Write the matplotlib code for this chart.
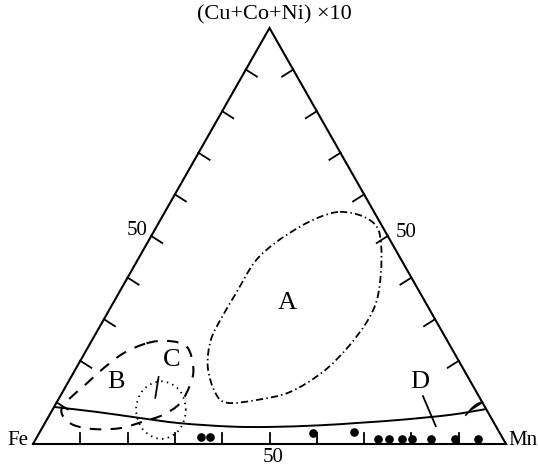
import numpy as np
import matplotlib
matplotlib.use("Agg")
import matplotlib.pyplot as plt
from matplotlib.path import Path
from matplotlib.patches import PathPatch

# ternary values in percent: (Mn, Cu+Co+Ni x10), Fe = 100 - Mn - Cu
sample_mn = [34.6, 36.5, 57.8, 66.4, 72.4, 74.7, 77.5, 79.5, 83.5, 88.6, 93.4]
sample_cu = [1.7, 1.7, 2.6, 2.8, 1.2, 1.2, 1.2, 1.2, 1.2, 1.2, 1.2]

# field A, dash-dot outline
field_a_mn = [37.0, 42.2, 46.6, 49.7, 53.0, 55.4, 55.9, 54.9, 52.6, 48.1, 42.1,
              36.1, 32.4, 27.7, 25.1, 24.7, 24.8, 25.0, 27.0, 30.3, 33.4]
field_a_cu = [55.8, 54.8, 52.2, 47.8, 41.1, 34.6, 29.3, 23.1, 17.3, 12.5, 10.6,
              9.9, 12.3, 18.5, 25.0, 30.5, 36.5, 43.8, 48.3, 52.2, 54.6]

# field B, dashed outline
field_b_mn = [11.9, 15.9, 20.8, 24.8, 26.1, 26.2, 24.0, 20.6, 16.5, 10.9, 6.2,
              3.1, 1.8, 2.3, 4.1, 5.8, 8.2]
field_b_cu = [24.2, 24.8, 23.4, 18.2, 14.2, 9.8, 7.0, 5.4, 3.8, 3.6, 4.6,
              6.6, 8.6, 11.0, 14.6, 18.2, 21.8]

# field C, dotted outline
field_c_mn = [28.2, 24.4, 19.5, 16.8, 17.7, 21.6, 26.5, 29.2]
field_c_cu = [8.2, 13.0, 15.1, 13.0, 8.2, 3.4, 1.2, 3.4]

# upper limit of field D, solid line
line_d_mn = [0.0, 9.7, 19.5, 28.6, 39.5, 48.0, 58.5, 66.5, 74.7, 84.7, 91.6]
line_d_cu = [8.9, 7.7, 6.25, 5.0, 4.2, 4.1, 4.5, 5.1, 5.8, 7.0, 8.4]

# small arc where the D line meets the Mn side
arc_mn = [88.0, 88.7, 89.9]
arc_cu = [6.8, 9.1, 10.2]

field_labels = ["A", "B", "C", "D"]
label_mn = [36.7, 10.0, 19.2, 74.3]
label_cu = [33.9, 15.0, 20.2, 14.9]

# leader lines (C, D)
leader_mn = [[18.5, 20.3], [76.7, 83.0]]
leader_cu = [[16.1, 11.1], [11.5, 4.3]]

tick_values = [10, 20, 30, 40, 50, 60, 70, 80, 90]

W_PX, H_PX = 473.0, 416.0
SERIF = ["Liberation Serif", "DejaVu Serif"]


def to_xy(mn, cu):
    mn = np.asarray(mn, dtype=float) / 100.0
    cu = np.asarray(cu, dtype=float) / 100.0
    return mn + cu / 2.0, cu


def smooth_path(x, y, closed=True):
    pts = np.column_stack([x, y])
    n = len(pts)
    if closed:
        idx = lambda i: pts[i % n]
        segs = range(n)
    else:
        idx = lambda i: pts[min(max(i, 0), n - 1)]
        segs = range(n - 1)
    verts = [pts[0]]
    codes = [Path.MOVETO]
    for i in segs:
        p0, p1, p2, p3 = idx(i - 1), idx(i), idx(i + 1), idx(i + 2)
        verts += [p1 + (p2 - p0) / 6.0, p2 - (p3 - p1) / 6.0, p2]
        codes += [Path.CURVE4] * 3
    return Path(verts, codes)


def px_vec(dx, dy):
    # pixel offset (right, down) -> data offset
    return dx / W_PX, -dy / H_PX


fig = plt.figure(figsize=(5.38, 4.72), dpi=100)
ax = fig.add_axes([33 / 538, 28 / 472, W_PX / 538, H_PX / 472])
ax.set_xlim(0, 1)
ax.set_ylim(0, 1)
ax.axis("off")

# triangle frame
tx, ty = to_xy([0, 100, 0, 0], [0, 0, 100, 0])
ax.plot(tx, ty, color="black", lw=1.5, clip_on=False, solid_joinstyle="miter")

# ticks, pointing inwards
for v in tick_values:
    bx, by = to_xy(v, 0)
    ddx, ddy = px_vec(0, -11)
    ax.plot([bx, bx + ddx], [by, by + ddy], color="black", lw=1.3)
    lx, ly = to_xy(0, v)
    ddx, ddy = px_vec(11, 7)
    ax.plot([lx, lx + ddx], [ly, ly + ddy], color="black", lw=1.3)
    rx, ry = to_xy(100 - v, v)
    ddx, ddy = px_vec(-11, 7)
    ax.plot([rx, rx + ddx], [ry, ry + ddy], color="black", lw=1.3)

# fields
ax.add_patch(PathPatch(smooth_path(*to_xy(field_a_mn, field_a_cu)), fill=False,
                       lw=1.3, linestyle=(0, (4.0, 1.8, 0.8, 1.8)), color="black"))
ax.add_patch(PathPatch(smooth_path(*to_xy(field_b_mn, field_b_cu)), fill=False,
                       lw=1.5, linestyle=(0, (5.5, 4.5)), color="black"))
ax.add_patch(PathPatch(smooth_path(*to_xy(field_c_mn, field_c_cu)), fill=False,
                       lw=1.3, linestyle=(0, (0.8, 2.4)), color="black"))
ax.add_patch(PathPatch(smooth_path(*to_xy(line_d_mn, line_d_cu), closed=False),
                       fill=False, lw=1.4, color="black", clip_on=False))
ax.add_patch(PathPatch(smooth_path(*to_xy(arc_mn, arc_cu), closed=False),
                       fill=False, lw=1.2, color="black"))

for lm, lc in zip(leader_mn, leader_cu):
    ax.plot(*to_xy(lm, lc), color="black", lw=1.3)

for name, lm, lc in zip(field_labels, label_mn, label_cu):
    x, y = to_xy(lm, lc)
    ax.text(x, y, name, family=SERIF, fontsize=19, ha="center", va="center")

# samples
sx, sy = to_xy(sample_mn, sample_cu)
ax.plot(sx, sy, "o", color="black", ms=5.2, clip_on=False)


# axis labels
def corner_label(mn, cu, text, dx, dy, size):
    ax.annotate(text, xy=to_xy(mn, cu), xytext=(dx, dy), textcoords="offset points",
                ha="center", va="center", family=SERIF, fontsize=size)


corner_label(0, 0, "Fe", -10.8, 2.2, 15)
corner_label(100, 0, "Mn", 12.0, 2.2, 15)
corner_label(0, 100, "(Cu+Co+Ni) \u00d710", 3.6, 9.6, 16)
corner_label(50, 0, "50", 2.5, -10.0, 15)
corner_label(0, 50, "50", -10.4, 4.3, 15)
corner_label(50, 50, "50", 13.0, 2.2, 15)

fig.savefig("out.png", dpi=100)
